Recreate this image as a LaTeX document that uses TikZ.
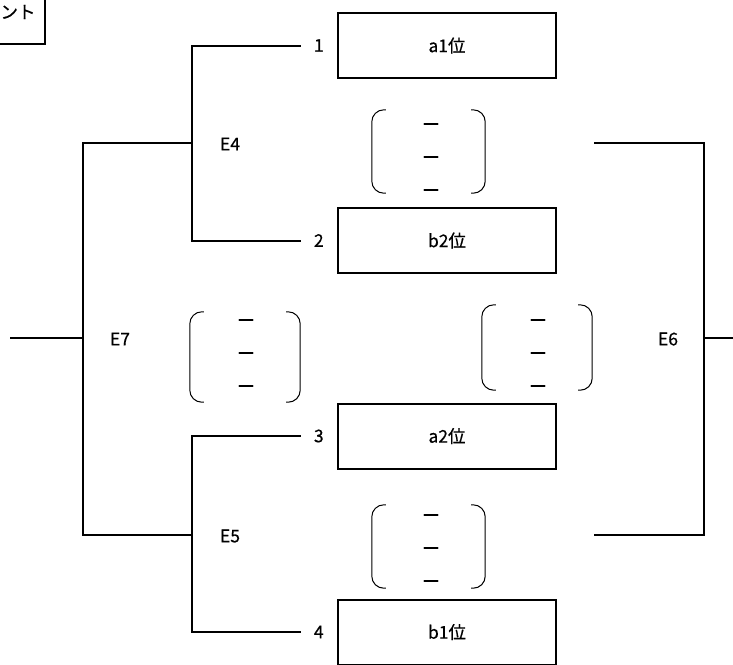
\documentclass[tikz,border=0pt]{standalone}
\usepackage{fontspec}
\setmainfont[FakeBold=0.6]{Noto Sans CJK JP}
\usepackage{tikz}
\usetikzlibrary{positioning}
\tikzstyle{entry} = [rectangle, minimum width=218pt, minimum height=65pt, text centered, draw=black, line width=2pt]
\tikzstyle{seed} = [minimum width=36pt, inner sep=0pt, text centered]
\tikzstyle{game} = [text centered, inner sep=0pt]
\tikzstyle{gap} = [minimum width=110pt, minimum height=84pt, inner sep=0pt]
\tikzstyle{dashes} = [align=center, inner sep=0pt, font=\fontsize{18}{33}\selectfont]
\tikzstyle{line} = [line width=2pt]
\tikzstyle{paren} = [line width=1pt, rounded corners=12pt]

\begin{document}
\begin{tikzpicture}[x=1pt, y=-1pt, font=\fontsize{17.5}{20}\selectfont]
				\useasboundingbox (0,0) rectangle (733,664);
				
				% Title box (cut off at the corner)
				\node (title) [draw=black, line width=2pt, minimum width=54pt, minimum height=64pt, anchor=south east] at (46,45) {ント};
				
				% Nodes for entries
				\node (box1) [entry] at (447,45.5) {a1位};
				\node (box2) [entry] at (447,240.5) {b2位};
				\node (box3) [entry] at (447,436) {a2位};
				\node (box4) [entry] at (447,632) {b1位};
				\node (n1) [seed, left=0pt of box1] {1};
				\node (n2) [seed, left=0pt of box2] {2};
				\node (n3) [seed, left=0pt of box3] {3};
				\node (n4) [seed, left=0pt of box4] {4};
				
				% Junctions
				\coordinate (j4) at (192,143);
				\coordinate (j5) at (192,535);
				\coordinate (j7) at (83,338);
				\coordinate (j6) at (704,338);
				\coordinate (in) at (10,338);
				\coordinate (out) at (733,338);
				\coordinate (e6a) at (594,143);
				\coordinate (e6b) at (594,535);
				
				% Game labels
				\node (g4) [game] at (230,144) {E4};
				\node (g5) [game] at (230,536) {E5};
				\node (g7) [game] at (120,339) {E7};
				\node (g6) [game] at (668,339) {E6};
				
				% Brackets
				\draw [line] (n1.west) -| (j4) |- (n2.west);
				\draw [line] (n3.west) -| (j5) |- (n4.west);
				\draw [line] (j4) -| (j7) |- (j5);
				\draw [line] (in) -- (j7);
				\draw [line] (e6a) -| (j6) |- (e6b);
				\draw [line] (j6) -- (out);
				
				% Empty slots
				\node (p1) [gap, minimum width=113pt, minimum height=83pt] at (428.5,151.5) {};
				\node (p2) [gap, minimum width=110pt, minimum height=90pt] at (245,357) {};
				\node (p3) [gap, minimum width=110pt, minimum height=85pt] at (537,347.5) {};
				\node (p4) [gap, minimum width=113pt, minimum height=83pt] at (428.5,546.5) {};
				\node (d1) [dashes] at (431,160) {ー\\ー\\ー};
				\node (d2) [dashes] at (246,356) {ー\\ー\\ー};
				\node (d3) [dashes] at (538,356) {ー\\ー\\ー};
				\node (d4) [dashes] at (431,551) {ー\\ー\\ー};
				\foreach \p in {p1,p2,p3,p4} {
					\draw [paren] ([xshift=14pt]\p.north west) -- (\p.north west) -- (\p.south west) -- ([xshift=14pt]\p.south west);
					\draw [paren] ([xshift=-14pt]\p.north east) -- (\p.north east) -- (\p.south east) -- ([xshift=-14pt]\p.south east);
				}
				
			\end{tikzpicture}
\end{document}
